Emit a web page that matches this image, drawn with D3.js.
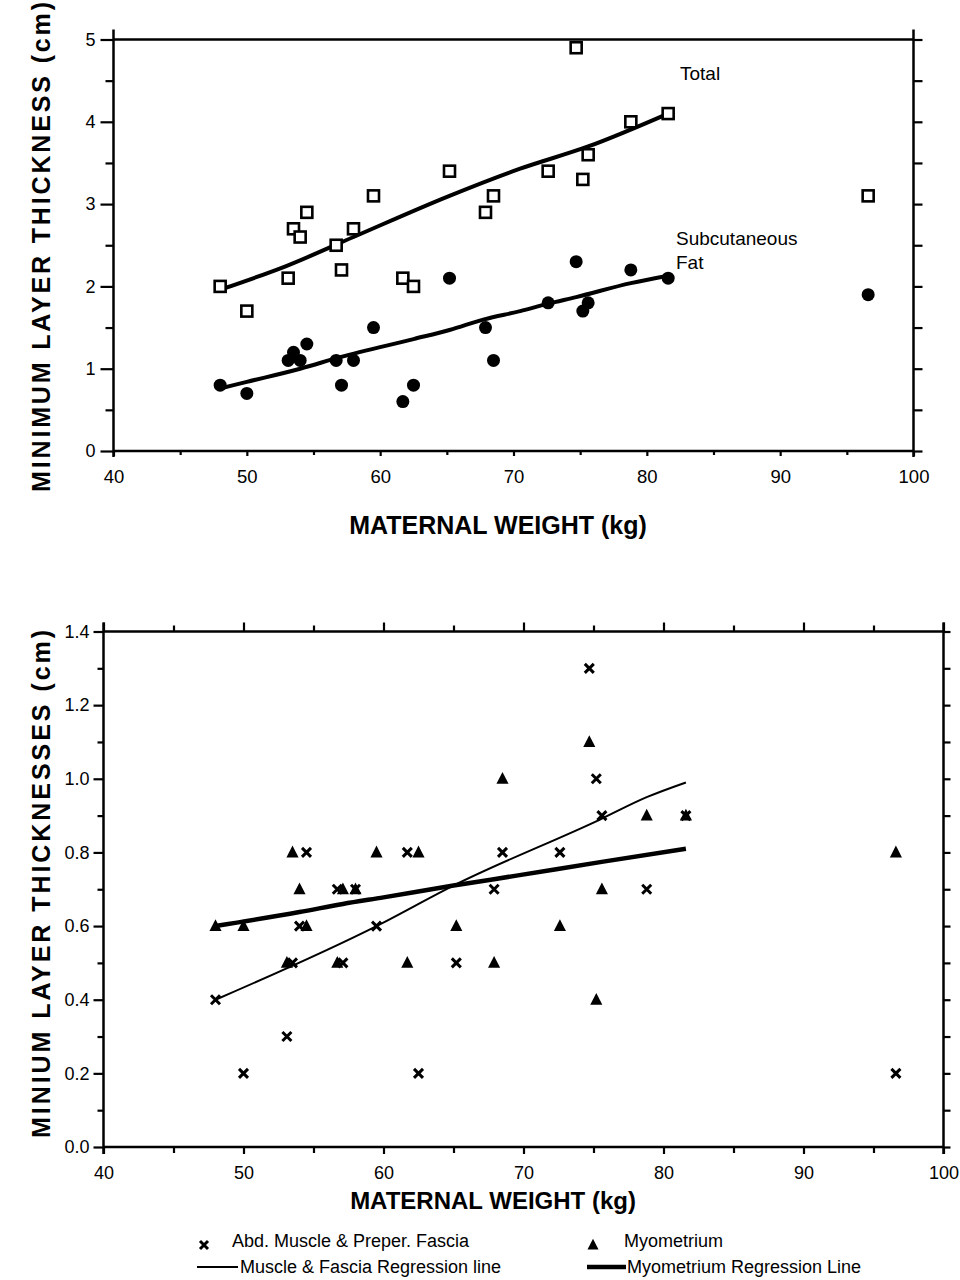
<!DOCTYPE html>
<html>
<head>
<meta charset="utf-8">
<script src="https://cdn.jsdelivr.net/npm/d3@7"></script>
<style>
body { margin: 0; background: #fff; }
svg { display: block; font-family: "Liberation Sans", Arial, Helvetica, sans-serif; }
</style>
</head>
<body>
<svg id="chart" width="960" height="1280"></svg>
<script>
// maternal weight (kg) of each subject, shared by both panels
const weights = [48.0, 50.0, 53.1, 53.5, 54.0, 54.5, 56.7, 57.1, 58.0, 59.5, 61.7, 62.5, 65.2, 67.9, 68.5, 72.6, 74.7, 75.2, 75.6, 78.8, 81.6, 96.6];

// top panel: minimum layer thickness (cm)
const totalThickness = [2.0, 1.7, 2.1, 2.7, 2.6, 2.9, 2.5, 2.2, 2.7, 3.1, 2.1, 2.0, 3.4, 2.9, 3.1, 3.4, 4.9, 3.3, 3.6, 4.0, 4.1, 3.1];
const fatThickness = [0.8, 0.7, 1.1, 1.2, 1.1, 1.3, 1.1, 0.8, 1.1, 1.5, 0.6, 0.8, 2.1, 1.5, 1.1, 1.8, 2.3, 1.7, 1.8, 2.2, 2.1, 1.9];

// fitted lines as drawn in the figure
const totalFitW = [48.0, 53.0, 58.0, 65.2, 70.5, 75.6, 81.6];
const totalFitV = [1.96, 2.25, 2.6, 3.1, 3.43, 3.70, 4.1];
const fatFitW = [48.0, 50.0, 54.0, 57.0, 62.5, 65.2, 67.8, 70.5, 72.6, 74.7, 78.8, 81.6];
const fatFitV = [0.76, 0.84, 1.0, 1.14, 1.36, 1.47, 1.6, 1.7, 1.79, 1.87, 2.04, 2.13];

// bottom panel: minimum layer thicknesses (cm)
const muscleFascia = [0.4, 0.2, 0.3, 0.5, 0.6, 0.8, 0.7, 0.5, 0.7, 0.6, 0.8, 0.2, 0.5, 0.7, 0.8, 0.8, 1.3, 1.0, 0.9, 0.7, 0.9, 0.2];
const myometrium = [0.6, 0.6, 0.5, 0.8, 0.7, 0.6, 0.5, 0.7, 0.7, 0.8, 0.5, 0.8, 0.6, 0.5, 1.0, 0.6, 1.1, 0.4, 0.7, 0.9, 0.9, 0.8];

const muscleFitW = [48.0, 59.5, 65.0, 75.5, 78.8, 81.6];
const muscleFitV = [0.40, 0.60, 0.71, 0.89, 0.95, 0.99];
const myoFitW = [48.0, 54.0, 57.1, 60.0, 65.0, 69.5, 75.7, 81.6];
const myoFitV = [0.60, 0.638, 0.66, 0.678, 0.71, 0.737, 0.775, 0.81];

// ticks
const xMajor = [40, 50, 60, 70, 80, 90, 100];
const xMinor = [45, 55, 65, 75, 85, 95];
const yTopMajor = [0, 1, 2, 3, 4, 5];
const yTopMinor = [0.5, 1.5, 2.5, 3.5, 4.5];
const yBotMajor = [0, 0.2, 0.4, 0.6, 0.8, 1.0, 1.2, 1.4];
const yBotMinor = [0.1, 0.3, 0.5, 0.7, 0.9, 1.1, 1.3];

const svg = d3.select("#chart");

const zip = (a, b) => a.map((v, i) => [v, b[i]]);

function addAxis(axis, pos, size, ticks, fmt, pad, fontSize) {
  const g = svg.append("g")
    .attr("transform", pos)
    .call(axis.tickValues(ticks).tickSize(size).tickSizeOuter(0).tickPadding(pad).tickFormat(fmt));
  g.select(".domain").remove();
  g.selectAll(".tick line").attr("stroke", "#000").attr("stroke-width", 2.2);
  g.selectAll(".tick text").attr("fill", "#000").style("font-size", fontSize + "px");
  return g;
}

function frame(x, y, ext) {
  const [x0, x1] = x.range();
  const [y0, y1] = y.range();
  const f = svg.append("g").attr("stroke", "#000").attr("stroke-width", 2.5);
  f.append("line").attr("x1", x0).attr("x2", x1).attr("y1", y0).attr("y2", y0);
  f.append("line").attr("x1", x0).attr("x2", x1).attr("y1", y1).attr("y2", y1);
  f.append("line").attr("x1", x0).attr("x2", x0).attr("y1", y1 - ext[0]).attr("y2", y0 + ext[1]);
  f.append("line").attr("x1", x1).attr("x2", x1).attr("y1", y1 - ext[0]).attr("y2", y0 + ext[1]);
}

// ---------- top panel ----------
const xTop = d3.scaleLinear().domain([40, 100]).range([113.5, 913.5]);
const yTop = d3.scaleLinear().domain([0, 5]).range([451, 39.5]);

frame(xTop, yTop, [10, 6]);
addAxis(d3.axisLeft(yTop), `translate(${xTop(40)},0)`, 13, yTopMajor, d3.format("d"), 5, 18);
addAxis(d3.axisLeft(yTop), `translate(${xTop(40)},0)`, 8, yTopMinor, "", 5, 18);
addAxis(d3.axisRight(yTop), `translate(${xTop(100)},0)`, 9, yTopMajor.concat(yTopMinor), "", 5, 18);
addAxis(d3.axisBottom(xTop), `translate(0,${yTop(0)})`, 5, xMajor, d3.format("d"), 14, 18.5);
addAxis(d3.axisBottom(xTop), `translate(0,${yTop(0)})`, 4, xMinor, "", 14, 18.5);

const lineTop = d3.line().x(d => xTop(d[0])).y(d => yTop(d[1])).curve(d3.curveMonotoneX);
svg.append("path").datum(zip(totalFitW, totalFitV)).attr("d", lineTop)
  .attr("fill", "none").attr("stroke", "#000").attr("stroke-width", 4);
svg.append("path").datum(zip(fatFitW, fatFitV)).attr("d", lineTop)
  .attr("fill", "none").attr("stroke", "#000").attr("stroke-width", 4);

svg.append("g").selectAll("rect").data(zip(weights, totalThickness)).join("rect")
  .attr("x", d => xTop(d[0]) - 5.5).attr("y", d => yTop(d[1]) - 5.5)
  .attr("width", 11).attr("height", 11)
  .attr("fill", "#fff").attr("stroke", "#000").attr("stroke-width", 2.6);
svg.append("g").selectAll("circle").data(zip(weights, fatThickness)).join("circle")
  .attr("cx", d => xTop(d[0])).attr("cy", d => yTop(d[1])).attr("r", 6.5).attr("fill", "#000");

svg.append("text").attr("x", 680).attr("y", 80).style("font-size", "19px").text("Total");
svg.append("text").attr("x", 676).attr("y", 245).style("font-size", "19px").text("Subcutaneous");
svg.append("text").attr("x", 676).attr("y", 268.5).style("font-size", "19px").text("Fat");

svg.append("text").attr("x", 498).attr("y", 534).attr("text-anchor", "middle")
  .style("font-size", "25px").style("font-weight", "bold").text("MATERNAL WEIGHT (kg)");
svg.append("text").attr("transform", "translate(50,247) rotate(-90)").attr("text-anchor", "middle")
  .attr("textLength", 490).attr("lengthAdjust", "spacing")
  .style("font-size", "25px").style("font-weight", "bold").text("MINIMUM  LAYER  THICKNESS  (cm)");

// ---------- bottom panel ----------
const xBot = d3.scaleLinear().domain([40, 100]).range([103.5, 943.5]);
const yBot = d3.scaleLinear().domain([0, 1.4]).range([1147, 631.5]);

frame(xBot, yBot, [9, 7]);
addAxis(d3.axisLeft(yBot), `translate(${xBot(40)},0)`, 10, yBotMajor, d3.format(".1f"), 4, 18);
addAxis(d3.axisLeft(yBot), `translate(${xBot(40)},0)`, 6, yBotMinor, "", 4, 18);
addAxis(d3.axisRight(yBot), `translate(${xBot(100)},0)`, 7, yBotMajor.concat(yBotMinor), "", 4, 18);
addAxis(d3.axisBottom(xBot), `translate(0,${yBot(0)})`, 7, xMajor, d3.format("d"), 12, 18);
addAxis(d3.axisBottom(xBot), `translate(0,${yBot(0)})`, 6, xMinor, "", 12, 18);
addAxis(d3.axisTop(xBot), `translate(0,${yBot(1.4)})`, 9, xMajor, "", 4, 18);
addAxis(d3.axisTop(xBot), `translate(0,${yBot(1.4)})`, 6, xMinor, "", 4, 18);

const lineBot = d3.line().x(d => xBot(d[0])).y(d => yBot(d[1])).curve(d3.curveMonotoneX);
svg.append("path").datum(zip(muscleFitW, muscleFitV)).attr("d", lineBot)
  .attr("fill", "none").attr("stroke", "#000").attr("stroke-width", 2);
svg.append("path").datum(zip(myoFitW, myoFitV)).attr("d", lineBot)
  .attr("fill", "none").attr("stroke", "#000").attr("stroke-width", 4.5);

const triPath = (cx, cy, s) => `M${cx},${cy - s * 0.62}L${cx + s * 0.55},${cy + s * 0.45}L${cx - s * 0.55},${cy + s * 0.45}Z`;
const crossPath = (cx, cy, s) => `M${cx - s},${cy - s}L${cx + s},${cy + s}M${cx - s},${cy + s}L${cx + s},${cy - s}`;

svg.append("g").selectAll("path").data(zip(weights, myometrium)).join("path")
  .attr("d", d => triPath(xBot(d[0]), yBot(d[1]), 11)).attr("fill", "#000");
svg.append("g").selectAll("path").data(zip(weights, muscleFascia)).join("path")
  .attr("d", d => crossPath(xBot(d[0]), yBot(d[1]), 4.5))
  .attr("fill", "none").attr("stroke", "#000").attr("stroke-width", 3);

svg.append("text").attr("x", 493).attr("y", 1209).attr("text-anchor", "middle")
  .style("font-size", "24px").style("font-weight", "bold").text("MATERNAL WEIGHT (kg)");
svg.append("text").attr("transform", "translate(50,884) rotate(-90)").attr("text-anchor", "middle")
  .attr("textLength", 508).attr("lengthAdjust", "spacing")
  .style("font-size", "25px").style("font-weight", "bold").text("MINIUM  LAYER  THICKNESSES  (cm)");

// ---------- legend ----------
const leg = svg.append("g").style("font-size", "18px");
leg.append("path").attr("d", crossPath(204, 1245, 4)).attr("stroke", "#000").attr("stroke-width", 3);
leg.append("text").attr("x", 232).attr("y", 1247).text("Abd. Muscle & Preper. Fascia");
leg.append("path").attr("d", triPath(593, 1245, 10)).attr("fill", "#000");
leg.append("text").attr("x", 624).attr("y", 1247).text("Myometrium");
leg.append("line").attr("x1", 197).attr("x2", 238).attr("y1", 1267).attr("y2", 1267)
  .attr("stroke", "#000").attr("stroke-width", 2);
leg.append("text").attr("x", 240).attr("y", 1273).text("Muscle & Fascia Regression line");
leg.append("line").attr("x1", 587).attr("x2", 626).attr("y1", 1267).attr("y2", 1267)
  .attr("stroke", "#000").attr("stroke-width", 4.5);
leg.append("text").attr("x", 627).attr("y", 1273).text("Myometrium Regression Line");
</script>
</body>
</html>
